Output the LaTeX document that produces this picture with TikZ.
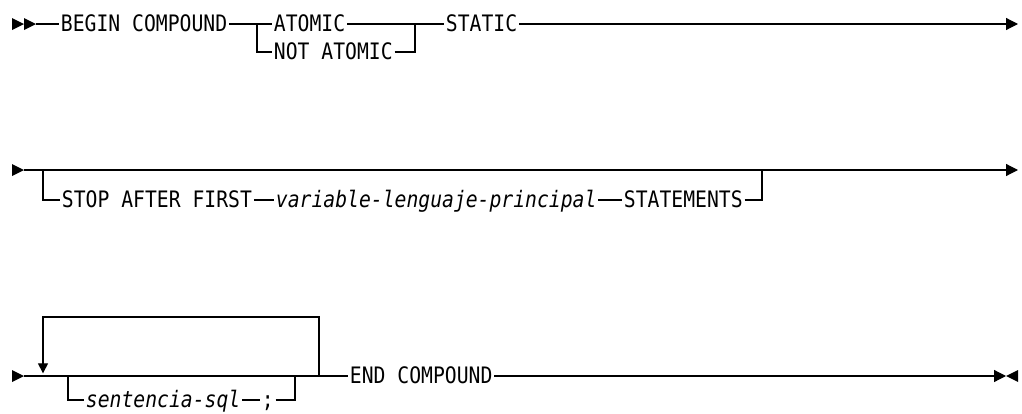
\documentclass[tikz,border=0pt]{standalone}
\usepackage{fontspec}
\setmonofont[FakeStretch=0.87]{DejaVu Sans Mono}
\usetikzlibrary{arrows.meta}

\begin{document}
\begin{tikzpicture}[x=0.75pt, y=-0.75pt, line width=0.9pt, >={Triangle[length=9pt,width=9pt]},
  kw/.style={anchor=west, inner xsep=1pt, inner ysep=0pt, text height=11.4pt, text depth=0pt,
    font=\ttfamily\fontsize{17}{19}\selectfont},
  var/.style={kw, font=\ttfamily\itshape\fontsize{17}{19}\selectfont}]
  \useasboundingbox (0,0) rectangle (1022,414);

  % first line
  \fill (12,18) -- (24,24) -- (12,30) -- cycle;
  \fill (24,18) -- (36,24) -- (24,30) -- cycle;
  \coordinate (s1) at (36,24);
  \coordinate (a1) at (257,24);
  \coordinate (b1) at (415,24);
  \coordinate (e1) at (1018,24);
  \node[kw] (begin) at (59,24) {BEGIN COMPOUND};
  \node[kw] (atomic) at (272,24) {ATOMIC};
  \node[kw] (notatomic) at (272,52) {NOT ATOMIC};
  \node[kw] (static) at (444,24) {STATIC};
  \draw (s1) -- (begin.west);
  \draw (begin.east) -- (atomic.west);
  \draw (atomic.east) -- (static.west);
  \draw (a1) |- (notatomic.west);
  \draw (notatomic.east) -| (b1);
  \draw[->] (static.east) -- (e1);

  % second line
  \fill (12,164) -- (24,170) -- (12,176) -- cycle;
  \coordinate (s2) at (24,170);
  \coordinate (a2) at (43,170);
  \coordinate (b2) at (762,170);
  \coordinate (e2) at (1018,170);
  \node[kw] (stop) at (60,200) {STOP AFTER FIRST};
  \node[var] (hostvar) at (274,200) {variable-lenguaje-principal};
  \node[kw] (stmts) at (622,200) {STATEMENTS};
  \draw[->] (s2) -- (e2);
  \draw (a2) |- (stop.west);
  \draw (stop.east) -- (hostvar.west);
  \draw (hostvar.east) -- (stmts.west);
  \draw (stmts.east) -| (b2);

  % third line
  \fill (12,370) -- (24,376) -- (12,382) -- cycle;
  \coordinate (s3) at (24,376);
  \coordinate (loopl) at (43,376);
  \coordinate (opta) at (68,376);
  \coordinate (optb) at (295,376);
  \coordinate (loopr) at (319,376);
  \coordinate (ltop) at (319,317);
  \coordinate (e3) at (1006,376);
  \node[var] (sql) at (84,400) {sentencia-sql};
  \node[kw] (semi) at (260,400) {;};
  \node[kw] (endc) at (348,376) {END COMPOUND};
  \draw (s3) -- (endc.west);
  \draw[-{Triangle[length=7.5pt,width=7.5pt]}, shorten >=2pt] (loopr) -- (ltop) -| (loopl);
  \draw (opta) |- (sql.west);
  \draw (sql.east) -- (semi.west);
  \draw (semi.east) -| (optb);
  \draw[->] (endc.east) -- (e3);
  \fill (1018,370) -- (1006,376) -- (1018,382) -- cycle;
\end{tikzpicture}
\end{document}
